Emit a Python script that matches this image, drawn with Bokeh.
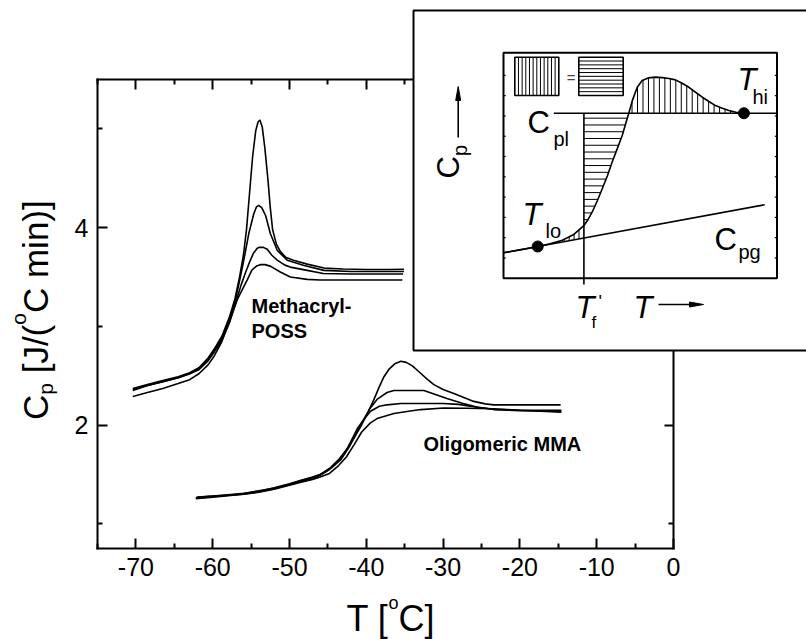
import numpy as np
from math import pi

from bokeh.plotting import figure
from bokeh.models import Range1d, LinearAxis, FixedTicker, Label
from bokeh.embed import file_html
from bokeh.resources import INLINE

# ---------------------------------------------------------------------------
# DSC heating scans, T in degC, Cp in J/(degC min)
# Methacryl-POSS, four runs (largest overshoot first)
POSS_1_T = [-70.4, -68.5, -66.5, -64.5, -63.0, -61.8, -60.6, -59.8, -58.8, -57.8, -57.1,
            -56.5, -56.0, -55.6, -55.2, -54.8, -54.4, -54.1, -53.85, -53.55, -53.2, -52.8,
            -52.5, -52.2, -51.7, -51.2, -50.5, -49.5, -47.7, -45.5, -43.0, -40.0, -37.0, -35.1]
POSS_1_CP = [2.37, 2.41, 2.45, 2.49, 2.53, 2.58, 2.68, 2.77, 2.90, 3.10, 3.28,
             3.50, 3.72, 3.98, 4.35, 4.72, 4.98, 5.07, 5.09, 5.02, 4.80, 4.48,
             4.20, 3.98, 3.83, 3.76, 3.70, 3.67, 3.63, 3.59, 3.58, 3.575, 3.575, 3.578]

POSS_2_T = [-70.4, -68.5, -66.5, -64.5, -63.0, -61.8, -60.6, -59.8, -58.8, -57.8, -57.0,
            -56.4, -55.95, -55.3, -54.65, -54.3, -54.0, -53.6, -53.1, -52.5, -51.6, -50.3,
            -48.1, -45.5, -42.0, -38.0, -35.1]
POSS_2_CP = [2.35, 2.40, 2.44, 2.48, 2.52, 2.57, 2.66, 2.75, 2.88, 3.07, 3.28,
             3.50, 3.67, 3.94, 4.14, 4.21, 4.225, 4.20, 4.12, 3.94, 3.77, 3.67,
             3.617, 3.567, 3.555, 3.555, 3.555]

POSS_3_T = [-70.4, -68.5, -66.5, -64.5, -63.0, -61.8, -60.6, -59.8, -58.8, -57.8, -57.0,
            -56.3, -55.7, -55.2, -54.7, -54.2, -53.9, -53.4, -52.9, -52.3, -51.6, -50.6,
            -49.9, -47.7, -45.6, -42.0, -38.0, -35.2]
POSS_3_CP = [2.36, 2.40, 2.44, 2.48, 2.52, 2.56, 2.65, 2.74, 2.86, 3.04, 3.24,
             3.42, 3.55, 3.65, 3.74, 3.79, 3.80, 3.80, 3.78, 3.72, 3.67, 3.62,
             3.60, 3.567, 3.535, 3.53, 3.53, 3.53]

POSS_4_T = [-70.4, -68.5, -66.5, -64.5, -63.0, -61.8, -60.6, -59.8, -58.9, -58.1, -57.4,
            -56.8, -56.1, -55.5, -54.9, -54.3, -53.8, -53.2, -52.5, -51.2, -49.9, -47.7,
            -46.0, -42.0, -38.0, -35.3]
POSS_4_CP = [2.29, 2.33, 2.37, 2.42, 2.46, 2.52, 2.61, 2.70, 2.83, 2.99, 3.14,
             3.27, 3.38, 3.47, 3.57, 3.61, 3.625, 3.625, 3.61, 3.55, 3.50, 3.476,
             3.47, 3.47, 3.47, 3.47]

# Oligomeric MMA, four runs (largest overshoot first)
MMA_1_T = [-62.2, -60.0, -58.0, -56.0, -54.0, -52.0, -50.0, -48.5, -47.0, -45.8, -44.5,
           -43.3, -42.3, -41.5, -40.7, -39.9, -39.0, -38.3, -37.7, -37.0, -36.3, -35.5,
           -34.8, -34.0, -33.0, -32.0, -31.2, -30.0, -28.6, -27.3, -26.0, -24.5, -23.4,
           -20.0, -17.0, -14.7]
MMA_1_CP = [1.265, 1.28, 1.29, 1.305, 1.335, 1.36, 1.40, 1.435, 1.47, 1.505, 1.57,
            1.65, 1.77, 1.88, 1.99, 2.11, 2.26, 2.39, 2.49, 2.57, 2.62, 2.646,
            2.635, 2.60, 2.53, 2.46, 2.41, 2.36, 2.32, 2.28, 2.24, 2.215, 2.205,
            2.205, 2.205, 2.205]

MMA_2_T = [-62.0, -60.0, -58.0, -56.0, -54.0, -52.0, -50.0, -48.5, -47.0, -46.0, -44.8,
           -43.6, -42.4, -41.4, -40.6, -39.6, -38.6, -37.3, -36.4, -32.5, -31.0, -29.5,
           -27.5, -25.5, -23.4, -20.0, -14.6]
MMA_2_CP = [1.27, 1.28, 1.295, 1.31, 1.33, 1.365, 1.405, 1.44, 1.475, 1.50, 1.56,
            1.65, 1.77, 1.90, 2.02, 2.16, 2.26, 2.33, 2.35, 2.35, 2.31, 2.27,
            2.22, 2.18, 2.157, 2.145, 2.14]

MMA_3_T = [-62.1, -60.0, -58.0, -56.0, -54.0, -52.0, -50.0, -48.5, -47.0, -46.0, -44.8,
           -43.6, -42.6, -41.2, -40.3, -39.45, -38.3, -37.3, -35.5, -30.0, -28.0, -26.5,
           -23.4, -20.0, -14.6]
MMA_3_CP = [1.26, 1.275, 1.29, 1.30, 1.325, 1.355, 1.395, 1.43, 1.465, 1.49, 1.55,
            1.64, 1.745, 1.96, 2.06, 2.14, 2.19, 2.205, 2.218, 2.218, 2.21, 2.19,
            2.16, 2.15, 2.15]

MMA_4_T = [-62.2, -60.0, -58.0, -56.0, -54.0, -52.0, -50.0, -48.5, -47.0, -46.0, -44.8,
           -43.6, -42.6, -41.6, -40.6, -39.5, -38.6, -36.4, -34.5, -32.9, -29.9, -27.0,
           -23.4, -20.0, -14.6]
MMA_4_CP = [1.255, 1.27, 1.285, 1.30, 1.32, 1.35, 1.39, 1.42, 1.45, 1.475, 1.51,
            1.59, 1.677, 1.80, 1.93, 2.02, 2.066, 2.117, 2.14, 2.157, 2.173, 2.17,
            2.165, 2.15, 2.13]

POSS_RUNS = [(POSS_1_T, POSS_1_CP), (POSS_2_T, POSS_2_CP), (POSS_3_T, POSS_3_CP), (POSS_4_T, POSS_4_CP)]
MMA_RUNS = [(MMA_1_T, MMA_1_CP), (MMA_2_T, MMA_2_CP), (MMA_3_T, MMA_3_CP), (MMA_4_T, MMA_4_CP)]

# Axis ticks
X_TICKS = [-70, -60, -50, -40, -30, -20, -10, 0]
X_TICK_LABELS = ["-70", "-60", "-50", "-40", "-30", "-20", "-10", "0"]
X_MINOR = [-75, -65, -55, -45, -35, -25, -15, -5]
Y_TICKS = [2, 4]
Y_TICK_LABELS = ["2", "4"]
Y_MINOR = [1, 3, 5]
X_LIMITS = (-75, 0)
Y_LIMITS = (0.75, 5.5)

# Schematic of the fictive-temperature construction (inner frame spans 0..100 both ways)
INSET_U = [0, 6, 12.5, 17, 21.5, 25.5, 29.4, 31.0, 32.4, 34.3, 36.1, 38.0, 39.7, 41.6,
           43.4, 45.8, 47.1, 48.9, 50.7, 53.1, 55.6, 58.0, 60.5, 62.9, 65.3, 67.8, 70.2,
           72.7, 75.1, 77.5, 80.0, 82.4, 85.0, 87.9]
INSET_V = [11.3, 12.6, 14.0, 15.3, 16.9, 19.3, 23.4, 26.2, 29.3, 34.4, 39.7, 45.5, 51.5, 57.5,
           63.3, 73.2, 78.8, 84.7, 87.7, 88.9, 89.2, 89.0, 88.6, 88.0, 86.5, 84.7, 82.5,
           80.3, 78.4, 76.6, 75.4, 74.4, 73.6, 73.2]
CPL_LEVEL = 73.2          # liquid heat capacity
CPL_START = 18.4
CPG_U = [0.0, 95.5]       # glass heat capacity line
CPG_V = [11.3, 32.6]
T_LO = (12.5, 14.1)
T_HI = (87.9, 73.2)
TF_U = 29.4               # fictive temperature

# ---------------------------------------------------------------------------
# Page geometry (pixels); the plotting frame fills the whole canvas and the
# axes are pinned to the data limits so that every label stays inside it.
W, H = 806, 639
AX_L, AX_R, AX_T, AX_B = 97, 673, 79, 548  # main axes box
IL, IR, IT, IB = 503, 776.5, 52.3, 277.8   # inset inner frame

xs = (AX_R - AX_L) / (X_LIMITS[1] - X_LIMITS[0])
ys = (AX_B - AX_T) / (Y_LIMITS[1] - Y_LIMITS[0])


def mx(px):
    return X_LIMITS[0] + (px - AX_L) / xs


def my(py):
    return Y_LIMITS[0] + (AX_B - py) / ys


def iu(px):
    return (px - IL) / (IR - IL) * 100.0


def iv(py):
    return (IB - py) / (IB - IT) * 100.0


FONT = "Liberation Sans"
ARIAL_W = {' ': 278, '[': 278, ']': 278, '(': 333, ')': 333, '/': 278, 'J': 500, 'C': 722,
           'T': 611, 'o': 556, 'p': 556, 'm': 833, 'i': 222, 'n': 556, 'l': 222, 'g': 556,
           'f': 278, 'h': 556, "'": 191}
BASE_ADJ = 0.27   # distance the rendered baseline sits below the anchor, per px of font size

p = figure(width=W, height=H, output_backend="svg", toolbar_location=None,
           x_range=Range1d(mx(0), mx(W)), y_range=Range1d(my(H), my(0)),
           min_border_left=0, min_border_right=0, min_border_top=0, min_border_bottom=0,
           outline_line_color=None, background_fill_color="white", border_fill_color="white")
p.xgrid.visible = False
p.ygrid.visible = False
p.extra_x_ranges = {"ins": Range1d(iu(0), iu(W))}
p.extra_y_ranges = {"ins": Range1d(iv(H), iv(0))}


def style_axis(ax, major=10, minor=5, labels=True):
    ax.axis_line_width = 2
    ax.axis_line_cap = "square"
    ax.major_tick_line_width = 2
    ax.minor_tick_line_width = 2
    ax.major_tick_in = major
    ax.major_tick_out = 0
    ax.minor_tick_in = minor
    ax.minor_tick_out = 0
    ax.major_label_text_font = FONT
    ax.major_label_text_font_size = "25px"
    ax.major_label_text_color = "black" if labels else None


xa = p.xaxis[0]
xa.fixed_location = Y_LIMITS[0]
xa.ticker = FixedTicker(ticks=X_TICKS, minor_ticks=X_MINOR)
xa.major_label_overrides = dict(zip(X_TICKS, X_TICK_LABELS))
xa.bounds = X_LIMITS
xa.major_label_standoff = 9
style_axis(xa)

ya = p.yaxis[0]
ya.fixed_location = X_LIMITS[0]
ya.ticker = FixedTicker(ticks=Y_TICKS, minor_ticks=Y_MINOR)
ya.major_label_overrides = dict(zip(Y_TICKS, Y_TICK_LABELS))
ya.bounds = Y_LIMITS
ya.major_label_standoff = 9
style_axis(ya)

top = LinearAxis(fixed_location=Y_LIMITS[1], bounds=X_LIMITS,
                 ticker=FixedTicker(ticks=X_TICKS, minor_ticks=X_MINOR))
style_axis(top, labels=False)
p.add_layout(top, "above")

right = LinearAxis(fixed_location=X_LIMITS[1], bounds=Y_LIMITS,
                   ticker=FixedTicker(ticks=Y_TICKS, minor_ticks=Y_MINOR))
style_axis(right, major=9, labels=False)
p.add_layout(right, "right")

# measured curves
for t, cp in POSS_RUNS + MMA_RUNS:
    p.line(t, cp, line_color="black", line_width=1.6)


def text_run(pieces, x0, y0, angle=0.0, inset=False, level="annotation"):
    """Lay out text pieces (text, size px, baseline shift px, style) along a baseline."""
    pos = 0.0
    for text, size, shift, style in pieces:
        lead = len(text) - len(text.lstrip(' '))
        pos += lead * ARIAL_W[' '] * size / 1000.0
        t = text.strip(' ')
        off = shift - BASE_ADJ * size
        if angle == 0.0:
            px, py = x0 + pos, y0 + off
        else:
            px, py = x0 + off, y0 - pos
        if inset:
            kw = dict(x=iu(px), y=iv(py), x_range_name="ins", y_range_name="ins")
        else:
            kw = dict(x=mx(px), y=my(py))
        p.add_layout(Label(text=t, angle=angle, text_font=FONT, text_font_size=f"{size}px",
                           text_font_style=style, text_color="black", text_align="left",
                           text_baseline="alphabetic", level=level, **kw))
        pos += sum(ARIAL_W.get(c, 556) for c in t) * size / 1000.0


# axis titles
text_run([("T [", 36, 0, "normal"), ("o", 18, -21, "normal"), ("C]", 36, 0, "normal")],
         346, 628)
text_run([("C", 35, 0, "normal"), ("p", 21, 7, "normal"), (" [J/(", 35, 0, "normal"),
          ("o", 21, -20, "normal"), ("C min)]", 35, 0, "normal")],
         44, 419.5, angle=pi / 2)

# sample names
text_run([("Methacryl-", 20, 0, "bold")], 251, 311)
text_run([("POSS", 20, 0, "bold")], 251, 336)
text_run([("Oligomeric MMA", 20, 0, "bold")], 423, 449)

# ---------------------------------------------------------------------------
# inset panel
INS = dict(x_range_name="ins", y_range_name="ins")
p.quad(left=[iu(413)], right=[iu(860)], top=[iv(10)], bottom=[iv(350)], fill_color="white",
       line_color="black", line_width=2, level="annotation", **INS)
p.quad(left=[0], right=[100], top=[100], bottom=[0], fill_color=None, line_color="black",
       line_width=2, level="overlay", **INS)

# tiny ticks on the inner frame sides
tick_v = np.arange(9.0, 95.0, 9.0)
tl = 0.8
p.segment(x0=np.zeros_like(tick_v), y0=tick_v, x1=np.full_like(tick_v, tl), y1=tick_v,
          line_color="black", line_width=1.2, level="overlay", **INS)
p.segment(x0=np.full_like(tick_v, 100.0), y0=tick_v, x1=np.full_like(tick_v, 100.0 - tl), y1=tick_v,
          line_color="black", line_width=1.2, level="overlay", **INS)

u_arr = np.array(INSET_U)
v_arr = np.array(INSET_V)
slope = (CPG_V[1] - CPG_V[0]) / (CPG_U[1] - CPG_U[0])

# hatching: vertical above C_pl, vertical between glass line and curve, horizontal below C_pl
hu = np.arange(47.0, 86.5, 2.0)
p.segment(x0=hu, y0=np.full_like(hu, CPL_LEVEL), x1=hu, y1=np.interp(hu, u_arr, v_arr),
          line_color="black", line_width=1.0, level="overlay", **INS)
lu = np.arange(15.0, 29.0, 1.8)
p.segment(x0=lu, y0=CPG_V[0] + slope * lu, x1=lu, y1=np.interp(lu, u_arr, v_arr),
          line_color="black", line_width=1.0, level="overlay", **INS)
rise = (u_arr >= TF_U) & (u_arr <= 45.8)
hv = np.arange(26.0, 72.0, 3.0)
p.segment(x0=np.full_like(hv, TF_U), y0=hv, x1=np.interp(hv, v_arr[rise], u_arr[rise]), y1=hv,
          line_color="black", line_width=1.0, level="overlay", **INS)

p.line(INSET_U, INSET_V, line_color="black", line_width=1.6, level="overlay", **INS)
p.line([CPL_START, 100], [CPL_LEVEL, CPL_LEVEL], line_color="black", line_width=1.6,
       level="overlay", **INS)
p.line(CPG_U, CPG_V, line_color="black", line_width=1.6, level="overlay", **INS)
p.line([TF_U, TF_U], [CPL_LEVEL, iv(284)], line_color="black", line_width=1.6,
       level="overlay", **INS)
p.scatter([T_LO[0], T_HI[0]], [T_LO[1], T_HI[1]], size=11, color="black", level="overlay", **INS)

# key: vertical-hatched box = horizontal-hatched box
k1 = (iu(514.3), iu(558.3), iv(56.7), iv(95.0))
k2 = (iu(578.3), iu(622.7), iv(56.7), iv(95.0))
for l, r, t, b in (k1, k2):
    p.quad(left=[l], right=[r], top=[t], bottom=[b], fill_color="white", line_color="black",
           line_width=1.6, level="overlay", **INS)
ku = np.linspace(k1[0], k1[1], 13)[1:-1]
p.segment(x0=ku, y0=np.full_like(ku, k1[3]), x1=ku, y1=np.full_like(ku, k1[2]),
          line_color="black", line_width=1.0, level="overlay", **INS)
kv = np.linspace(k2[3], k2[2], 11)[1:-1]
p.segment(x0=np.full_like(kv, k2[0]), y0=kv, x1=np.full_like(kv, k2[1]), y1=kv,
          line_color="black", line_width=1.0, level="overlay", **INS)
p.add_layout(Label(x=iu(570.7), y=iv(76.7), text="=", text_font=FONT, text_font_size="15px",
                   text_align="center", text_baseline="middle", level="overlay", **INS))

# arrows beside the schematic axis names
p.line([iu(457.7), iu(457.7)], [iv(137), iv(98)], line_color="black", line_width=1.6,
       level="overlay", **INS)
p.patch([iu(455.2), iu(460.2), iu(457.7)], [iv(100), iv(100), iv(86)], color="black",
        level="overlay", **INS)
p.line([iu(658), iu(692)], [iv(304), iv(304)], line_color="black", line_width=1.6,
       level="overlay", **INS)
p.patch([iu(689), iu(689), iu(703)], [iv(301.5), iv(306.5), iv(304)], color="black",
        level="overlay", **INS)

# schematic labels
text_run([("C", 31, 0, "normal"), ("p", 20, 9, "normal")], 456, 178, angle=pi / 2,
         inset=True, level="overlay")
text_run([("T", 31, 0, "italic")], 633, 315, inset=True, level="overlay")
text_run([("T", 31, 0, "italic")], 575, 315, inset=True, level="overlay")
text_run([("'", 18, 0, "normal")], 598, 306, inset=True, level="overlay")
text_run([("f", 17, 0, "normal")], 591, 327, inset=True, level="overlay")
text_run([("T", 31, 0, "italic")], 737, 87, inset=True, level="overlay")
text_run([("hi", 20, 0, "normal")], 752, 102, inset=True, level="overlay")
text_run([("T", 31, 0, "italic")], 522, 222, inset=True, level="overlay")
text_run([("lo", 20, 0, "normal")], 545, 236, inset=True, level="overlay")
text_run([("C", 31, 0, "normal")], 527, 130, inset=True, level="overlay")
text_run([("pl", 20, 0, "normal")], 553, 144, inset=True, level="overlay")
text_run([("C", 31, 0, "normal")], 714, 247, inset=True, level="overlay")
text_run([("pg", 20, 0, "normal")], 738, 257, inset=True, level="overlay")

open("out.html", "w").write(file_html(p, INLINE))
